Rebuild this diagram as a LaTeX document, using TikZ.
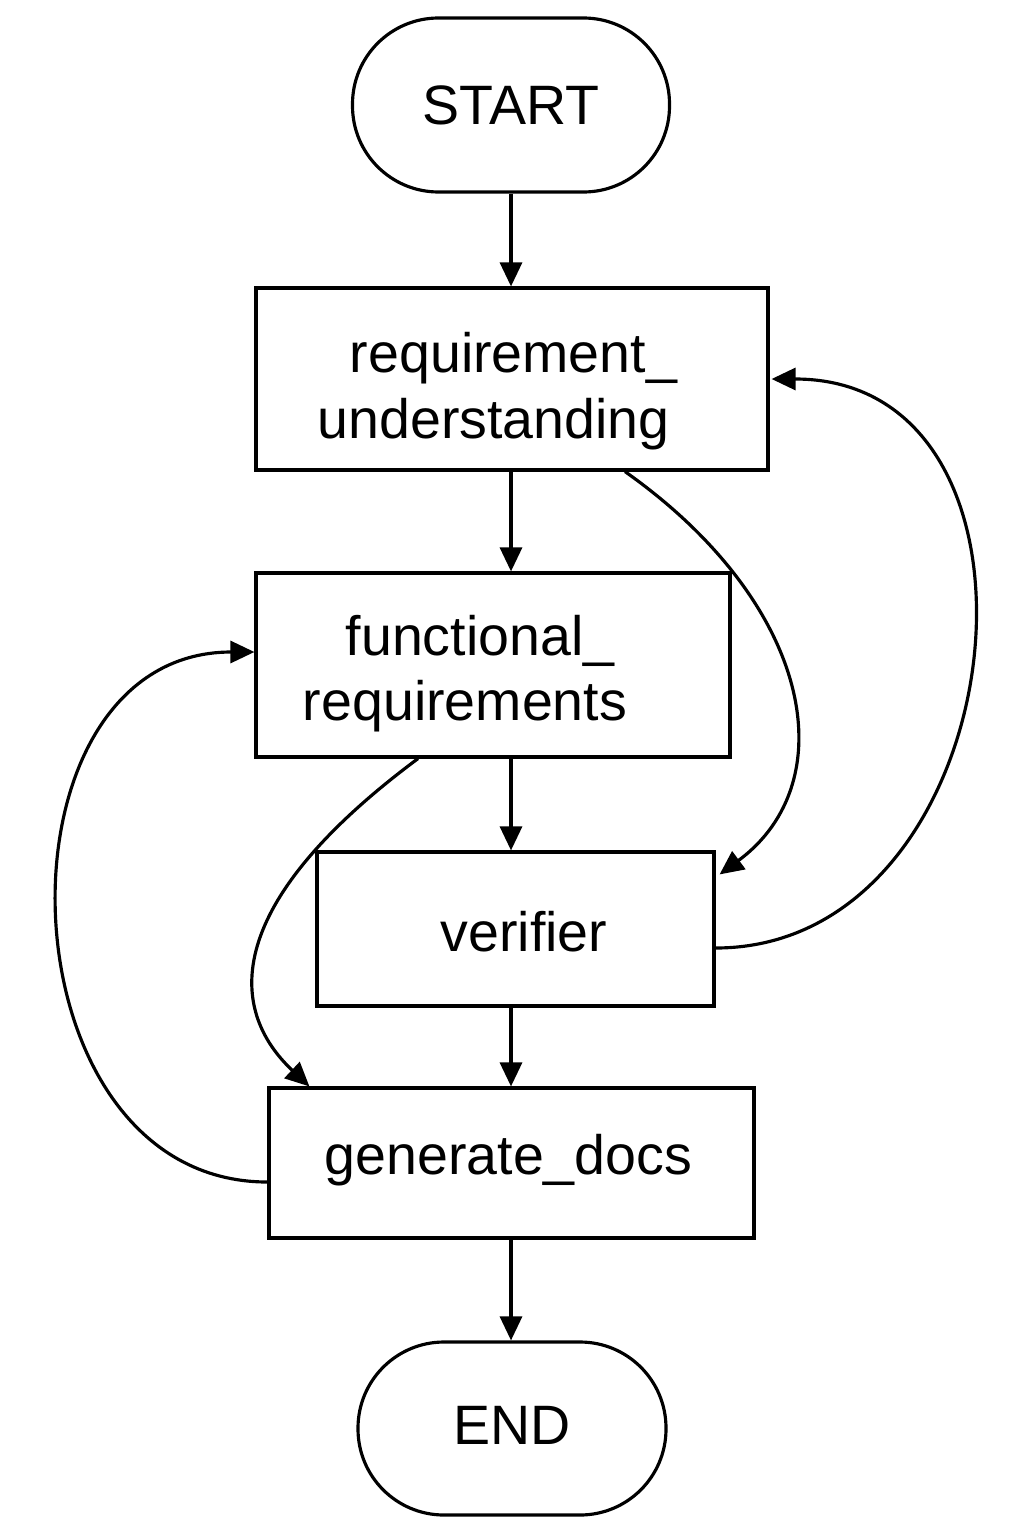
\documentclass[tikz,border=0pt]{standalone}
\usepackage{fontspec}
\setmainfont{Liberation Sans}
\usetikzlibrary{calc}
\usetikzlibrary{arrows.meta}

\begin{document}
\begin{tikzpicture}[
  line width=0.9pt,
  box/.style={draw,rectangle,inner sep=0pt},
  term/.style={box,rounded corners=0.86cm},
  txt/.style={inner sep=0pt,font=\fontsize{15.8}{19}\selectfont},
  flow/.style={-{Triangle[length=0.24cm,width=0.22cm]}}
]

\useasboundingbox (0,0) rectangle (10.24,-15.36);

\node[term,minimum width=3.17cm,minimum height=1.74cm] (start) at (5.11,-1.05) {};
\node[box,minimum width=5.12cm,minimum height=1.82cm] (req) at (5.12,-3.79) {};
\node[box,minimum width=4.74cm,minimum height=1.84cm] (func) at (4.93,-6.65) {};
\node[box,minimum width=3.97cm,minimum height=1.54cm] (ver) at (5.155,-9.29) {};
\node[box,minimum width=4.85cm,minimum height=1.50cm] (gen) at (5.115,-11.63) {};
\node[term,minimum width=3.08cm,minimum height=1.73cm] (end) at (5.12,-14.285) {};

\node[txt] (starttext) at (5.11,-1.05) {START};
\node[txt,anchor=base] (reqtexta) at (5.135,-3.72) {requirement\_};
\node[txt,anchor=base] (reqtextb) at (4.935,-4.38) {understanding};
\node[txt,anchor=base] (functexta) at (4.80,-6.55) {functional\_};
\node[txt,anchor=base] (functextb) at (4.65,-7.20) {requirements};
\node[txt] (vertext) at (5.24,-9.32) {verifier};
\node[txt] (gentext) at (5.085,-11.60) {generate\_docs};
\node[txt] (endtext) at (5.12,-14.25) {END};

\draw[flow] (start) -- (req.north -| start);
\draw[flow] (req.south -| start) -- (func.north -| start);
\draw[flow] (func.south -| start) -- (ver.north -| start);
\draw[flow] (ver.south -| start) -- (gen.north -| start);
\draw[flow] (gen.south -| start) -- (end.north -| start);

\draw[flow] ([xshift=1.13cm]req.south) .. controls +(1.87,-1.32) and +(1.26,0.93) .. ([shift={(0.04,-0.24)}]ver.north east);
\draw[flow] ([yshift=-0.19cm]ver.east) .. controls +(3.0,0) and +(3.05,0) .. ([xshift=0.02cm]req.east);
\draw[flow] ([xshift=-0.75cm]func.south) .. controls +(-1.95,-1.45) and +(-0.83,0.78) .. ([xshift=0.42cm]gen.north west);
\draw[flow] ([yshift=-0.19cm]gen.west) .. controls +(-2.7,0) and +(-2.7,0) .. ([yshift=0.13cm]func.west);

\end{tikzpicture}
\end{document}
